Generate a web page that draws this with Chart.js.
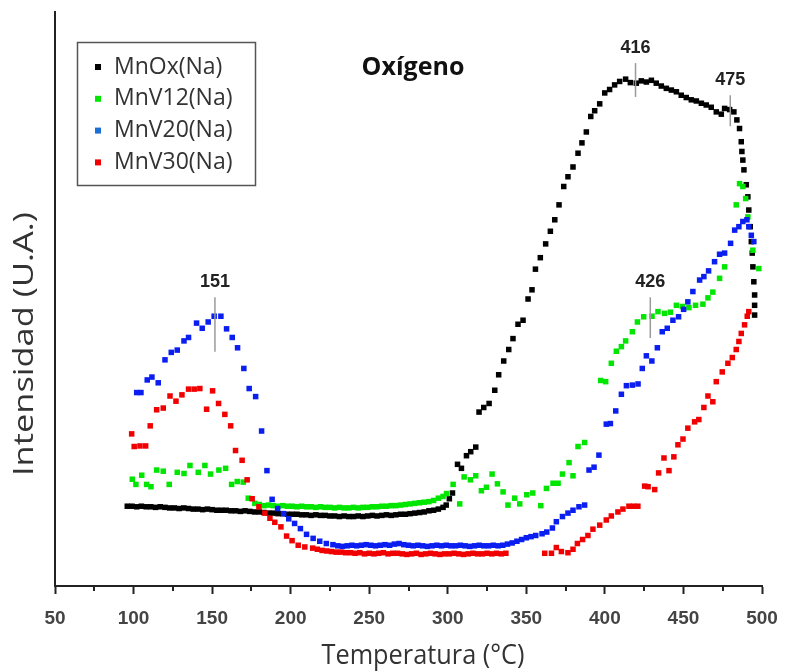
<!DOCTYPE html>
<html>
<head>
<meta charset="utf-8">
<title>Oxígeno</title>
<script src="https://cdn.jsdelivr.net/npm/chart.js@4.4.1/dist/chart.umd.min.js"></script>
<style>
  html, body { margin: 0; padding: 0; background: #fff; }
  #wrap { position: relative; width: 786px; height: 672px; }
</style>
</head>
<body>
<div id="wrap"><canvas id="chart"></canvas></div>
<script>
// temperatures (°C) and intensities (U.A.)
const mnoxT = [96, 99, 102, 105, 108, 111, 114, 117, 120, 123, 126, 129, 132, 135, 138, 141, 144, 147, 150, 153,
  156, 159, 162, 165, 168, 171, 174, 177, 180, 183, 186, 189, 192, 195, 198, 201, 204, 207, 210, 213,
  216, 219, 222, 225, 228, 231, 234, 237, 240, 243, 246, 249, 252, 255, 258, 261, 264, 267, 270, 273,
  276, 279, 282, 285, 288, 291, 294, 297, 299, 301, 303,
  306.2, 308.7, 311.9, 314.6, 317.8, 319.9, 322.9, 326.3, 329.9, 332.4, 335.6, 338.8, 341.5, 344.7, 347.9,
  351.1, 353.6, 355.8, 358.9, 362.3, 365.3, 368.1, 370.8, 373.8, 376.5, 379.7, 382.9, 385.4, 388.2, 391.0,
  393.5, 396.7, 399.9, 403.0, 406.2, 409.4, 413.2, 416.2, 420.0, 423.2, 426.4, 429.6, 432.7, 435.9, 439.1,
  442.3, 445.5, 448.6, 451.8, 455.0, 458.2, 461.4, 464.5, 467.7, 470.9, 474.1, 476.2, 479.4, 482.1, 484.0,
  485.7, 486.8, 487.2, 487.8, 488.5, 490.0, 491.0, 491.6, 492.5, 493.2, 493.8, 494.2, 494.8, 495.3, 495.3, 495.3];
const mnoxI = [13.9, 13.9, 13.8, 13.9, 13.8, 13.8, 13.7, 13.8, 13.7, 13.6, 13.6, 13.5, 13.6, 13.5, 13.4, 13.4, 13.3, 13.4, 13.3, 13.2,
  13.2, 13.2, 13.1, 13.1, 13.0, 13.1, 13.0, 12.9, 12.9, 12.8, 12.7, 12.7, 12.6, 12.6, 12.5, 12.5, 12.5, 12.4, 12.4, 12.3,
  12.4, 12.3, 12.3, 12.2, 12.2, 12.1, 12.2, 12.1, 12.1, 12.2, 12.1, 12.2, 12.3, 12.2, 12.3, 12.4, 12.3, 12.4, 12.5, 12.5,
  12.6, 12.7, 12.8, 12.9, 13.1, 13.2, 13.4, 13.7, 14.1, 15.2, 16.2,
  21.2, 20.5, 22.7, 23.4, 24.2, 30.3, 31.1, 31.8, 34.1, 36.8, 39.2, 41.2, 43.1, 45.6, 46.3,
  50.0, 51.6, 55.2, 57.2, 59.6, 61.8, 63.8, 66.4, 69.6, 71.3, 73.0, 75.4, 77.2, 79.1, 81.8,
  82.8, 84.0, 85.9, 86.5, 87.3, 87.9, 88.3, 87.7, 87.6, 88.0, 87.8, 88.1, 87.6, 87.1, 86.7,
  86.4, 86.1, 85.5, 85.1, 84.7, 84.5, 84.1, 83.8, 83.4, 82.6, 82.2, 83.2, 83.0, 82.6, 81.2,
  79.7, 77.4, 75.7, 74.2, 72.5, 69.9, 67.8, 65.5, 62.6, 60.0, 58.0, 55.6, 53.0, 50.7, 48.9, 47.2];

const mnv12T = [99.2, 101.5, 105.2, 108.3, 111.1, 114.7, 118.9, 122.7, 127.8, 132.1, 135.9, 141.2, 145.4, 149.0, 154.3,
  158.6, 162.4, 166.0, 169.8, 173.0, 177.2,
  180, 183, 186, 189, 192, 195, 198, 201, 204, 207, 210, 213, 216, 219, 222, 225, 228, 231, 234, 237,
  240, 243, 246, 249, 252, 255, 258, 261, 264, 267, 270, 273, 276, 279, 282, 285, 288, 291, 294, 297,
  299.2, 303.4, 307.6, 310.4, 314.4, 317.8, 321.4, 324.6, 328.2, 331.6, 335.2, 338.3, 342.6, 345.8, 350.3,
  354.1, 359.2, 362.8, 367.0, 370.2, 373.0, 377.2, 379.7, 382.9, 387.1, 397.3, 400.5, 404.1, 407.3, 410.5,
  413.2, 417.5, 420.7, 424.7, 430.0, 433.8, 438.0, 441.7, 445.5, 449.3, 453.5, 457.7, 462.4, 465.6, 468.7,
  473.0, 476.2, 483.6, 485.7, 487.8, 489.6, 491.0, 494.2, 498.0];
const mnv12I = [18.6, 17.7, 19.3, 17.7, 17.3, 20.2, 20.0, 17.7, 19.8, 19.6, 21.0, 19.8, 21.0, 19.5, 20.2,
  20.5, 17.7, 18.2, 18.1, 15.3, 14.4,
  14.2, 14.0, 14.1, 14.0, 13.9, 14.0, 13.9, 13.9, 13.8, 13.9, 13.8, 13.8, 13.7, 13.8, 13.7, 13.7, 13.6, 13.7, 13.6, 13.6,
  13.7, 13.6, 13.7, 13.7, 13.8, 13.8, 13.9, 13.9, 14.0, 14.0, 14.1, 14.2, 14.3, 14.4, 14.5, 14.6, 14.7, 14.9, 15.3, 15.6,
  16.1, 17.7, 14.3, 19.0, 18.5, 19.2, 16.6, 17.2, 19.5, 17.8, 16.4, 14.1, 15.3, 14.3, 15.9,
  16.2, 14.0, 17.0, 17.9, 17.9, 19.5, 21.5, 19.2, 24.3, 25.0, 35.8, 35.6, 38.8, 40.9, 41.7,
  42.7, 44.3, 46.0, 46.9, 47.0, 47.8, 47.5, 47.7, 48.9, 48.7, 48.5, 48.9, 49.1, 50.2, 51.2,
  53.6, 55.6, 66.4, 70.1, 69.6, 67.5, 64.3, 58.5, 55.3];

const mnv20T = [102.0, 104.7, 108.7, 111.7, 115.7, 120.0, 124.0, 127.8, 132.1, 135.0, 140.1, 143.7, 147.5, 151.3, 155.6,
  159.2, 162.8, 166.2, 170.2, 173.6, 177.7, 181.5, 184.9, 188.2, 191.7, 195.5, 198.8, 202.5, 206.2, 210.1,
  214.3, 218.5, 222.7, 226.9, 230,
  233, 236, 239, 242, 245, 248, 251, 254, 257, 260, 263, 266, 269, 272, 275, 278, 281, 284, 287, 290,
  293, 296, 299, 302, 305, 308, 311, 314, 317, 320, 323, 326, 329, 332, 335, 338, 341, 344, 347, 350, 353, 356,
  360, 363, 366.6, 369.1, 373.0, 376.5, 379.7, 383.5, 387.1,
  389.9, 393.1, 396.2, 400.9, 403.5, 406.9, 410.5, 413.7, 417.5, 421.1, 423.8, 426.4, 429.9, 433.4, 436.5,
  439.7, 443.3, 446.9, 450.1, 452.8, 456.0, 460.3, 463.0, 466.0, 469.8, 473.0, 476.2, 480.0, 482.6, 485.3,
  487.8, 490.4, 491.6, 493.2, 494.8];
const mnv20I = [33.7, 33.7, 35.9, 36.4, 35.4, 39.4, 40.7, 41.1, 42.7, 43.3, 45.8, 44.9, 46.0, 47.0, 47.0,
  44.8, 43.3, 41.5, 37.9, 34.4, 33.0, 27.0, 20.1, 15.1, 13.5, 12.6, 11.7, 10.9, 10.0, 9.0,
  8.3, 7.8, 7.4, 7.2, 7.0,
  6.9, 7.0, 7.1, 7.0, 7.1, 7.2, 7.1, 7.0, 7.1, 7.2, 7.1, 7.3, 7.4, 7.2, 7.1, 7.0, 7.1, 7.0, 6.9, 7.0,
  7.1, 7.0, 7.1, 7.0, 7.0, 7.1, 7.0, 6.9, 7.0, 7.1, 7.0, 7.0, 7.1, 7.0, 7.1, 7.3, 7.5, 7.8, 8.1, 8.4, 8.6, 8.8,
  9.1, 9.4, 10.1, 11.2, 12.1, 12.7, 13.2, 13.8, 14.1,
  20.2, 20.7, 22.8, 28.2, 28.3, 30.5, 33.4, 34.9, 35.0, 35.2, 37.9, 40.1, 39.2, 41.5, 44.3,
  44.9, 46.3, 46.9, 48.2, 49.5, 51.3, 53.3, 53.9, 54.9, 56.5, 57.8, 58.0, 59.7, 62.0, 62.6,
  63.5, 63.8, 62.6, 61.1, 60.0];

const mnv30T = [98.8, 100.4, 104.1, 107.7, 110.6, 114.7, 118.9, 123.2, 127.0, 130.8, 135.0, 138.6, 142.2, 146.5, 150.3,
  154.1, 158.1, 161.8, 164.9, 169.1, 172.3, 175.5, 179.8, 183.6, 186.8, 189.9, 193.8, 197.4, 200.9, 204.8, 209.0,
  214, 217, 220, 223, 226, 229, 232, 235, 238, 241, 244, 247, 250, 253, 256, 259, 262, 265, 268, 271,
  274, 277, 280, 283, 286, 289, 292, 295, 298, 301, 304, 307, 310, 313, 316, 319, 322, 325, 328, 331, 334, 337,
  361.7, 366.0, 369.1, 372.3, 376.5, 379.7, 382.5, 385.8, 389.2, 392.4, 396.7, 400.9, 404.1, 408.3, 411.5,
  415.3, 418.2, 421.0, 425.3, 427.5, 431.7, 434.2, 437.6, 440.8, 443.9, 446.5, 449.7, 452.8, 457.1, 459.8,
  463.0, 465.6, 468.7, 470.9, 474.7, 478.3, 481.1, 483.6, 485.3, 486.8, 488.9, 490.6, 491.6];
const mnv30I = [26.5, 24.3, 24.4, 24.4, 27.9, 30.7, 31.0, 33.1, 32.2, 33.3, 34.3, 34.3, 34.4, 30.8, 34.0,
  31.8, 29.9, 27.9, 23.6, 21.9, 18.5, 15.2, 13.8, 12.7, 11.8, 11.1, 10.3, 8.7, 7.9, 7.1, 6.8,
  6.6, 6.4, 6.2, 6.1, 6.0, 5.9, 5.9, 5.8, 5.8, 5.7, 5.8, 5.6, 5.7, 5.6, 5.7, 5.8, 5.6, 5.7, 5.7, 5.6,
  5.5, 5.6, 5.7, 5.5, 5.6, 5.7, 5.6, 5.5, 5.6, 5.6, 5.7, 5.6, 5.5, 5.6, 5.7, 5.6, 5.6, 5.7, 5.6, 5.7, 5.6, 5.7,
  5.7, 5.7, 6.7, 6.0, 5.8, 6.4, 7.4, 8.1, 8.8, 9.9, 10.6, 11.5, 12.2, 12.9, 13.4,
  13.9, 13.9, 13.9, 17.4, 17.3, 16.8, 19.7, 22.3, 20.1, 22.5, 24.6, 25.6, 27.5, 28.6, 29.0,
  31.1, 33.1, 32.1, 35.6, 37.3, 38.8, 39.8, 41.2, 42.6, 44.0, 45.5, 47.0, 47.8];

const seriesNames = ["MnOx(Na)", "MnV12(Na)", "MnV20(Na)", "MnV30(Na)"];
const seriesColors = ["#000000", "#00e600", "#0a1ef0", "#f00000"];
const legendColors = ["#000000", "#00e600", "#1a6fd6", "#f00000"];
const xTicks = [50, 100, 150, 200, 250, 300, 350, 400, 450, 500];

// peak marks: label text, temperature, intensity range of the little line
const peaks = [
  { text: "151", t: 151.8, from: 40.8, to: 50.3 },
  { text: "426", t: 428.9, from: 43.2, to: 50.3 },
  { text: "416", t: 419.5, from: 85.2, to: 91.1 },
  { text: "475", t: 479.8, from: 80.1, to: 85.5 },
];

function zip(ts, is) {
  return ts.map((t, i) => ({ x: t, y: is[i] }));
}

const allT = [mnoxT, mnv12T, mnv20T, mnv30T];
const allI = [mnoxI, mnv12I, mnv20I, mnv30I];

const decorPlugin = {
  id: "decor",
  afterDraw(chart) {
    const ctx = chart.ctx;
    const xs = chart.scales.x;
    const ys = chart.scales.y;
    const area = chart.chartArea;
    ctx.save();

    // minor ticks between the labelled ones
    ctx.strokeStyle = "#222";
    ctx.lineWidth = 2;
    for (let v = 75; v < 500; v += 50) {
      const px = Math.round(xs.getPixelForValue(v));
      ctx.beginPath();
      ctx.moveTo(px, area.bottom);
      ctx.lineTo(px, area.bottom + 5);
      ctx.stroke();
    }

    // peak marks
    ctx.strokeStyle = "#9a9a9a";
    ctx.lineWidth = 1.5;
    ctx.fillStyle = "#222";
    ctx.font = "bold 18px 'Liberation Sans', Arial, sans-serif";
    ctx.textAlign = "center";
    ctx.textBaseline = "bottom";
    peaks.forEach((p) => {
      const px = xs.getPixelForValue(p.t);
      const y1 = ys.getPixelForValue(p.from);
      const y2 = ys.getPixelForValue(p.to);
      ctx.beginPath();
      ctx.moveTo(px, y1);
      ctx.lineTo(px, y2);
      ctx.stroke();
      ctx.fillText(p.text, px, y2 - 6);
    });

    // title
    ctx.font = "bold 25px 'Open Sans', sans-serif";
    ctx.fillStyle = "#111";
    ctx.textBaseline = "middle";
    ctx.fillText("Oxígeno", 413, 68);

    // legend box
    ctx.strokeStyle = "#555";
    ctx.lineWidth = 1.5;
    ctx.strokeRect(77.5, 42.5, 178, 143);
    ctx.font = "23px 'Open Sans', sans-serif";
    ctx.textAlign = "left";
    seriesNames.forEach((name, i) => {
      const cy = 67 + i * 31.8;
      ctx.fillStyle = legendColors[i];
      ctx.fillRect(95, cy - 3, 6, 6);
      ctx.fillStyle = "#333";
      ctx.fillText(name, 114, cy);
    });

    // axis titles
    ctx.fillStyle = "#333";
    ctx.font = "27px 'Open Sans', sans-serif";
    ctx.textAlign = "center";
    let w = ctx.measureText("Temperatura (°C)").width;
    ctx.save();
    ctx.translate(423, 656);
    ctx.scale(203 / w, 1);
    ctx.fillText("Temperatura (°C)", 0, 0);
    ctx.restore();

    w = ctx.measureText("Intensidad (U.A.)").width;
    ctx.save();
    ctx.translate(25, 344);
    ctx.rotate(-Math.PI / 2);
    ctx.scale(264 / w, 1);
    ctx.fillText("Intensidad (U.A.)", 0, 0);
    ctx.restore();

    ctx.restore();
  },
};

new Chart(document.getElementById("chart"), {
  type: "scatter",
  data: {
    datasets: seriesNames.map((name, i) => ({
      label: name,
      data: zip(allT[i], allI[i]),
      backgroundColor: seriesColors[i],
      borderWidth: 0,
      pointStyle: "rect",
      pointRadius: 3.9,
      order: 4 - i,
    })),
  },
  options: {
    responsive: true,
    maintainAspectRatio: false,
    animation: false,
    devicePixelRatio: 1,
    layout: { padding: { top: 12, right: 24, left: 0, bottom: 0 } },
    plugins: {
      legend: { display: false },
      tooltip: { enabled: false },
    },
    scales: {
      x: {
        type: "linear",
        min: 50,
        max: 500,
        afterBuildTicks: (s) => { s.ticks = xTicks.map((v) => ({ value: v })); },
        afterFit: (s) => {
          s.height = 86;
          s.paddingLeft = 0;
          s.paddingRight = 0;
        },
        ticks: {
          color: "#444",
          padding: 13,
          maxRotation: 0,
          font: { family: "'Liberation Sans', Arial, sans-serif", size: 19, weight: "bold" },
        },
        grid: { drawOnChartArea: false, tickLength: 8, tickWidth: 2, tickColor: "#222" },
        border: { color: "#222", width: 2 },
      },
      y: {
        min: 0,
        max: 100,
        afterFit: (s) => { s.width = 55; },
        ticks: { display: false },
        grid: { drawOnChartArea: false, drawTicks: false },
        border: { color: "#222", width: 2 },
      },
    },
  },
  plugins: [decorPlugin],
});
</script>
</body>
</html>
